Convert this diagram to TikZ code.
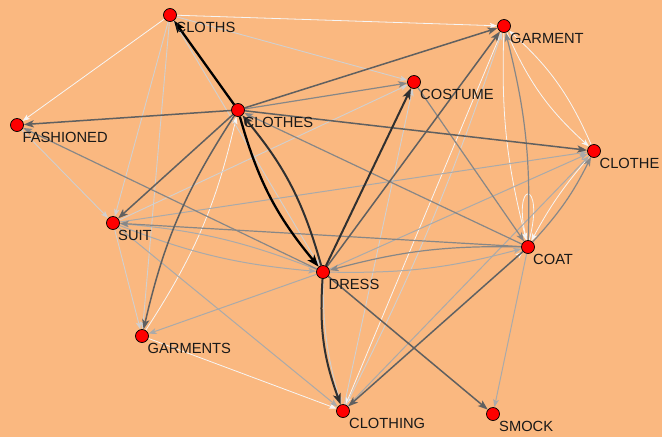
\documentclass[tikz,border=0pt]{standalone}
\usepackage{fontspec}
\setmainfont{Liberation Sans}
\usetikzlibrary{arrows.meta}
\definecolor{peach}{RGB}{250,184,128}
\definecolor{wE}{RGB}{246,246,246}
\definecolor{wD}{RGB}{208,208,208}
\definecolor{wC}{RGB}{170,170,170}
\definecolor{wB}{RGB}{135,135,135}
\definecolor{wA}{RGB}{96,96,96}
\definecolor{w9}{RGB}{48,48,48}
\pgfdeclarelayer{bg}
\pgfdeclarelayer{edges}
\pgfsetlayers{bg,edges,main}
\tikzset{
  vtx/.style={circle,draw=black,line width=0.7pt,fill=red,minimum size=13pt,inner sep=0pt},
  lbl/.style={anchor=north west,inner sep=0pt,font=\fontsize{14.7}{16}\selectfont,text=black!90},
  ed/.style={-{Stealth[length=#1,width=0.72*#1,inset=0.25*#1]}},
  e6/.style={draw=wE,line width=0.8pt,ed=7.5pt},
  e5/.style={draw=wD,line width=0.9pt,ed=7.5pt},
  e4/.style={draw=wC,line width=1pt,ed=8pt},
  e3/.style={draw=wB,line width=1.2pt,ed=9pt},
  e2/.style={draw=wA,line width=1.5pt,ed=10pt},
  e1/.style={draw=w9,line width=2pt,ed=11pt},
  e0/.style={draw=black,line width=2.3pt,ed=12pt},
  br/.style={bend right=#1},
}
\begin{document}
\begin{tikzpicture}[x=1pt,y=-1pt]
\begin{pgfonlayer}{bg}
  \fill[peach] (0,0) rectangle (662,437);
\end{pgfonlayer}
\useasboundingbox (0,0) rectangle (662,437);

% vertices
\node[vtx] (A) at (170,15) {};
\node[vtx] (B) at (504,26) {};
\node[vtx] (C) at (414,82) {};
\node[vtx] (D) at (17,125) {};
\node[vtx] (E) at (238,110) {};
\node[vtx] (F) at (594,151) {};
\node[vtx] (G) at (113,223) {};
\node[vtx] (H) at (528,247) {};
\node[vtx] (I) at (323,272) {};
\node[vtx] (J) at (142,336) {};
\node[vtx] (K) at (343,411) {};
\node[vtx] (L) at (493,414) {};

% labels
\node[lbl] (lA) at (175.5,22) {CLOTHS};
\node[lbl] (lB) at (510,33) {GARMENT};
\node[lbl] (lC) at (420,89) {COSTUME};
\node[lbl] (lD) at (22.5,132) {FASHIONED};
\node[lbl] (lE) at (243.5,117) {CLOTHES};
\node[lbl] (lF) at (599.5,158) {CLOTHE};
\node[lbl] (lG) at (118,230) {SUIT};
\node[lbl] (lH) at (533,254) {COAT};
\node[lbl] (lI) at (328.5,279) {DRESS};
\node[lbl] (lJ) at (147.5,343) {GARMENTS};
\node[lbl] (lK) at (349,418) {CLOTHING};
\node[lbl] (lL) at (499,421) {SMOCK};

\begin{pgfonlayer}{edges}
% faintest links
\draw[e6] (A) -- (B);
\draw[e6] (A) -- (D);
\draw[e6] (J) -- (K);
\draw[e6] (J) to[br=10] (E);
\draw[e6] (B) to[br=12] (F);
\draw[e6] (F) to[br=12] (B);
\draw[e6] (B) to[br=8] (H);
\draw[e6] (F) to[br=6] (H);
\draw[e6] (K) -- (H);
\draw[e6] (B) -- (K);
\draw[e6,-] (H.100) .. controls +(105:64pt) and +(75:64pt) .. (H.80);
% light links
\draw[e5] (A) -- (C);
\draw[e5] (A) -- (G);
\draw[e5] (A) -- (J);
\draw[e5] (A) -- (I);
\draw[e5] (D) -- (G);
\draw[e5] (G) -- (J);
\draw[e5] (K) -- (C);
\draw[e5] (K) to[br=4] (B);
\draw[e5] (G) -- (C);
\draw[e5] (I) to[br=8] (K);
% light grey links
\draw[e4] (G) to[br=8] (I);
\draw[e4] (I) to[br=8] (G);
\draw[e4] (I) -- (J);
\draw[e4] (G) -- (K);
\draw[e4] (I) -- (F);
\draw[e4] (K) -- (F);
\draw[e4] (H) -- (L);
\draw[e4] (G) -- (F);
\draw[e4] (I) to[br=8] (H);
% grey links
\draw[e3] (E) -- (C);
\draw[e3] (H) -- (E);
\draw[e3] (H) -- (G);
\draw[e3] (C) -- (H);
\draw[e3] (H) to[br=8] (B);
\draw[e3] (H) to[br=8] (F);
\draw[e3] (H) to[br=8] (I);
\draw[e3] (I) -- (D);
% dark links
\draw[e2] (E) -- (D);
\draw[e2] (E) -- (B);
\draw[e2] (E) -- (F);
\draw[e2] (E) -- (G);
\draw[e2] (E) to[br=10] (J);
\draw[e2] (I) -- (L);
\draw[e2] (H) -- (K);
\draw[e2] (I) -- (B);
% strongest links
\draw[e1] (I) -- (C);
\draw[e1] (I) to[br=12] (K);
\draw[e1] (I) to[br=12] (E);
\draw[e0] (E) -- (A);
\draw[e0] (E) to[br=12] (I);
\end{pgfonlayer}
\end{tikzpicture}
\end{document}
